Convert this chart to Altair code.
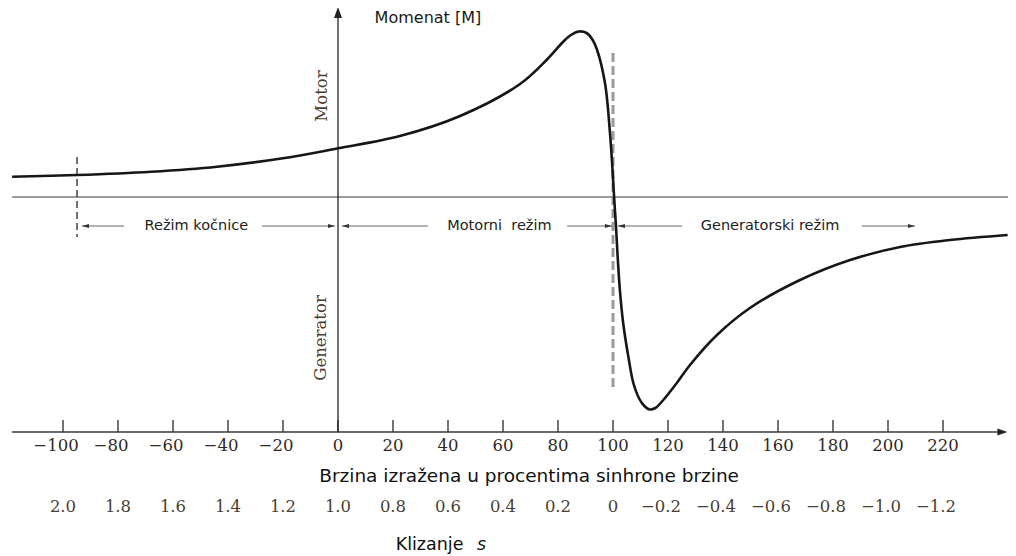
import altair as alt
import pandas as pd

# ---------------- data ----------------
speed = [-118.5, -95, -68, -44, -20, 0, 22.5, 44.4, 66.2, 76, 81.8, 84.7, 87.6, 90.4,
         92.4, 94.1, 97.1, 98.9, 99.6, 100.4, 101.1, 101.7, 102.5, 103.7, 105.6, 107.4,
         109.6, 111.4, 113.3, 115.4, 118.3, 123.2, 128, 137.8, 149.8, 168, 186.2, 204.4,
         222.5, 243.5]
torque = [20.3, 22, 25.3, 30.3, 38.7, 48.7, 61, 81, 113, 137.5, 155, 162, 165.5, 164,
          158, 148, 113.7, 64, 37, 0, -30, -60, -93, -126, -160, -186,
          -202, -209, -212.5, -211, -203, -186, -168, -138, -111, -83, -63, -50,
          -43, -38]

tick_speed = [-100, -80, -60, -40, -20, 0, 20, 40, 60, 80, 100, 120, 140, 160, 180, 200, 220]
tick_labels = ["\u2212100", "\u221280", "\u221260", "\u221240", "\u221220", "0", "20", "40",
               "60", "80", "100", "120", "140", "160", "180", "200", "220"]
slip_labels = ["2.0", "1.8", "1.6", "1.4", "1.2", "1.0", "0.8", "0.6", "0.4", "0.2", "0",
               "\u22120.2", "\u22120.4", "\u22120.6", "\u22120.8", "\u22121.0", "\u22121.2"]

region_labels = ["Režim kočnice", "Motorni\u00a0 režim", "Generatorski režim"]
region_centers = [-51.5, 58.7, 157.1]
arrow_left_tip = [-93.1, 1.45, 101.8]
arrow_left_tail = [-77.8, 32.7, 125.1]
arrow_right_tail = [-27.6, 83.3, 190.5]
arrow_right_tip = [-1.1, 99.6, 209.8]

# ---------------- geometry ----------------
W, H = 1000, 548
PX = 2.75                      # pixels per speed unit
x_lo = -120
x_hi = x_lo + W / PX
y_hi = 189
y_lo = y_hi - H

xs = alt.Scale(domain=[x_lo, x_hi], nice=False, zero=False)
ys = alt.Scale(domain=[y_lo, y_hi], nice=False, zero=False)


def X(f):
    return alt.X(f, type="quantitative", scale=xs, axis=None)


def Y(f):
    return alt.Y(f, type="quantitative", scale=ys, axis=None)


AXIS_Y = -235      # bottom speed axis
ANN_Y = -29        # annotation arrows

SANS = "DejaVu Sans"
SERIF = "DejaVu Serif"
NUM_SIZE = 16.5
NEG_DX = -7

layers = []

# zero line
layers.append(alt.Chart(pd.DataFrame({"x": [-118.5], "x2": [x_hi], "y": [0]}))
              .mark_rule(color="#7a7a7a", strokeWidth=1.6)
              .encode(x=X("x"), x2="x2", y=Y("y")))

# bottom axis line
layers.append(alt.Chart(pd.DataFrame({"x": [-118.5], "x2": [241.5], "y": [AXIS_Y]}))
              .mark_rule(color="#3a3a3a", strokeWidth=1.5)
              .encode(x=X("x"), x2="x2", y=Y("y")))

# ticks (pointing up)
layers.append(alt.Chart(pd.DataFrame({"x": tick_speed, "y": [AXIS_Y] * len(tick_speed),
                                      "y2": [AXIS_Y + 12] * len(tick_speed)}))
              .mark_rule(color="#3a3a3a", strokeWidth=1.4)
              .encode(x=X("x"), y=Y("y"), y2="y2"))

# vertical torque axis
layers.append(alt.Chart(pd.DataFrame({"x": [0], "y": [AXIS_Y], "y2": [185]}))
              .mark_rule(color="#222222", strokeWidth=1.3)
              .encode(x=X("x"), y=Y("y"), y2="y2"))

# axis arrow heads
layers.append(alt.Chart(pd.DataFrame({"x": [0], "y": [190]}))
              .mark_point(shape="M0,0L-0.8,2.2L0.8,2.2Z", filled=True, size=100,
                          color="#222222", opacity=1)
              .encode(x=X("x"), y=Y("y")))
layers.append(alt.Chart(pd.DataFrame({"x": [x_hi - 0.2], "y": [AXIS_Y]}))
              .mark_point(shape="M0,0L-2,-0.7L-2,0.7Z", filled=True, size=100,
                          color="#222222", opacity=1)
              .encode(x=X("x"), y=Y("y")))

# dashed boundary lines
layers.append(alt.Chart(pd.DataFrame({"x": [-94.9], "y": [40], "y2": [-40]}))
              .mark_rule(color="#333333", strokeWidth=1.4, strokeDash=[7, 4])
              .encode(x=X("x"), y=Y("y"), y2="y2"))
layers.append(alt.Chart(pd.DataFrame({"x": [100], "y": [144], "y2": [-193]}))
              .mark_rule(color="#9a9a9a", strokeWidth=3, strokeDash=[9, 4])
              .encode(x=X("x"), y=Y("y"), y2="y2"))

# annotation arrows
arrows = pd.DataFrame({
    "lt": arrow_left_tip, "ll": arrow_left_tail,
    "rl": arrow_right_tail, "rt": arrow_right_tip,
    "y": [ANN_Y] * 3,
})
layers.append(alt.Chart(arrows).mark_rule(color="#666666", strokeWidth=1)
              .encode(x=X("lt"), x2="ll", y=Y("y")))
layers.append(alt.Chart(arrows).mark_rule(color="#666666", strokeWidth=1)
              .encode(x=X("rl"), x2="rt", y=Y("y")))
layers.append(alt.Chart(arrows)
              .mark_point(shape="M0,0L2,-0.55L2,0.55Z", filled=True, size=49,
                          color="#333333", opacity=1)
              .encode(x=X("lt"), y=Y("y")))
layers.append(alt.Chart(arrows)
              .mark_point(shape="M0,0L-2,-0.55L-2,0.55Z", filled=True, size=49,
                          color="#333333", opacity=1)
              .encode(x=X("rt"), y=Y("y")))

# torque-speed curve
curve = pd.DataFrame({"speed": speed, "torque": torque, "order": range(len(speed))})
layers.append(alt.Chart(curve)
              .mark_line(color="#161616", strokeWidth=2.6, interpolate="catmull-rom")
              .encode(x=X("speed"), y=Y("torque"), order="order"))

# region labels
layers.append(alt.Chart(pd.DataFrame({"x": region_centers, "t": region_labels,
                                      "y": [ANN_Y - 4] * 3}))
              .mark_text(font=SANS, fontSize=14.5, color="#222222", align="center",
                         baseline="alphabetic")
              .encode(x=X("x"), y=Y("y"), text="t"))

# axis title
layers.append(alt.Chart(pd.DataFrame({"x": [32.7], "y": [174], "t": ["Momenat [M]"]}))
              .mark_text(font=SANS, fontSize=16, color="#1a1a1a", align="center",
                         baseline="alphabetic")
              .encode(x=X("x"), y=Y("y"), text="t"))

# Motor / Generator
layers.append(alt.Chart(pd.DataFrame({"x": [-5.8, -6.2], "y": [101, -141],
                                      "t": ["Motor", "Generator"]}))
              .mark_text(font=SERIF, fontSize=16.5, color="#4b3d2e", align="center",
                         baseline="middle", angle=270)
              .encode(x=X("x"), y=Y("y"), text="t"))

# speed tick labels
ticks_df = pd.DataFrame({"x": tick_speed, "t": tick_labels, "s": slip_labels})
pos_speed = ticks_df[ticks_df["x"] >= 0]
neg_speed = ticks_df[ticks_df["x"] < 0]
layers.append(alt.Chart(pos_speed.assign(y=AXIS_Y - 19))
              .mark_text(font=SERIF, fontSize=NUM_SIZE, color="#2e2a25", align="center",
                         baseline="alphabetic")
              .encode(x=X("x"), y=Y("y"), text="t"))
layers.append(alt.Chart(neg_speed.assign(y=AXIS_Y - 19))
              .mark_text(font=SERIF, fontSize=NUM_SIZE, color="#2e2a25", align="center",
                         baseline="alphabetic", dx=NEG_DX)
              .encode(x=X("x"), y=Y("y"), text="t"))

# slip labels
pos_slip = ticks_df[~ticks_df["s"].str.startswith("\u2212")]
neg_slip = ticks_df[ticks_df["s"].str.startswith("\u2212")]
layers.append(alt.Chart(pos_slip.assign(y=AXIS_Y - 80))
              .mark_text(font=SERIF, fontSize=NUM_SIZE, color="#4a3f33", align="center",
                         baseline="alphabetic")
              .encode(x=X("x"), y=Y("y"), text="s"))
layers.append(alt.Chart(neg_slip.assign(y=AXIS_Y - 80))
              .mark_text(font=SERIF, fontSize=NUM_SIZE, color="#4a3f33", align="center",
                         baseline="alphabetic", dx=NEG_DX)
              .encode(x=X("x"), y=Y("y"), text="s"))

# x titles
layers.append(alt.Chart(pd.DataFrame({"x": [69.5], "y": [-285],
                                      "t": ["Brzina izražena u procentima sinhrone brzine"]}))
              .mark_text(font=SANS, fontSize=18.5, color="#111111", align="center",
                         baseline="alphabetic")
              .encode(x=X("x"), y=Y("y"), text="t"))
layers.append(alt.Chart(pd.DataFrame({"x": [33.3], "y": [-353], "t": ["Klizanje"]}))
              .mark_text(font=SANS, fontSize=17.5, color="#111111", align="center",
                         baseline="alphabetic")
              .encode(x=X("x"), y=Y("y"), text="t"))
layers.append(alt.Chart(pd.DataFrame({"x": [52.2], "y": [-353], "t": ["s"]}))
              .mark_text(font=SANS, fontSize=17.5, fontStyle="italic", color="#111111",
                         align="center", baseline="alphabetic")
              .encode(x=X("x"), y=Y("y"), text="t"))

chart = (alt.layer(*layers)
         .properties(width=W, height=H, padding=0,
                     autosize=alt.AutoSizeParams(type="none"),
                     background="white")
         .configure_view(stroke=None))

chart.save("out.html", embed_options={"renderer": "svg", "actions": False})
